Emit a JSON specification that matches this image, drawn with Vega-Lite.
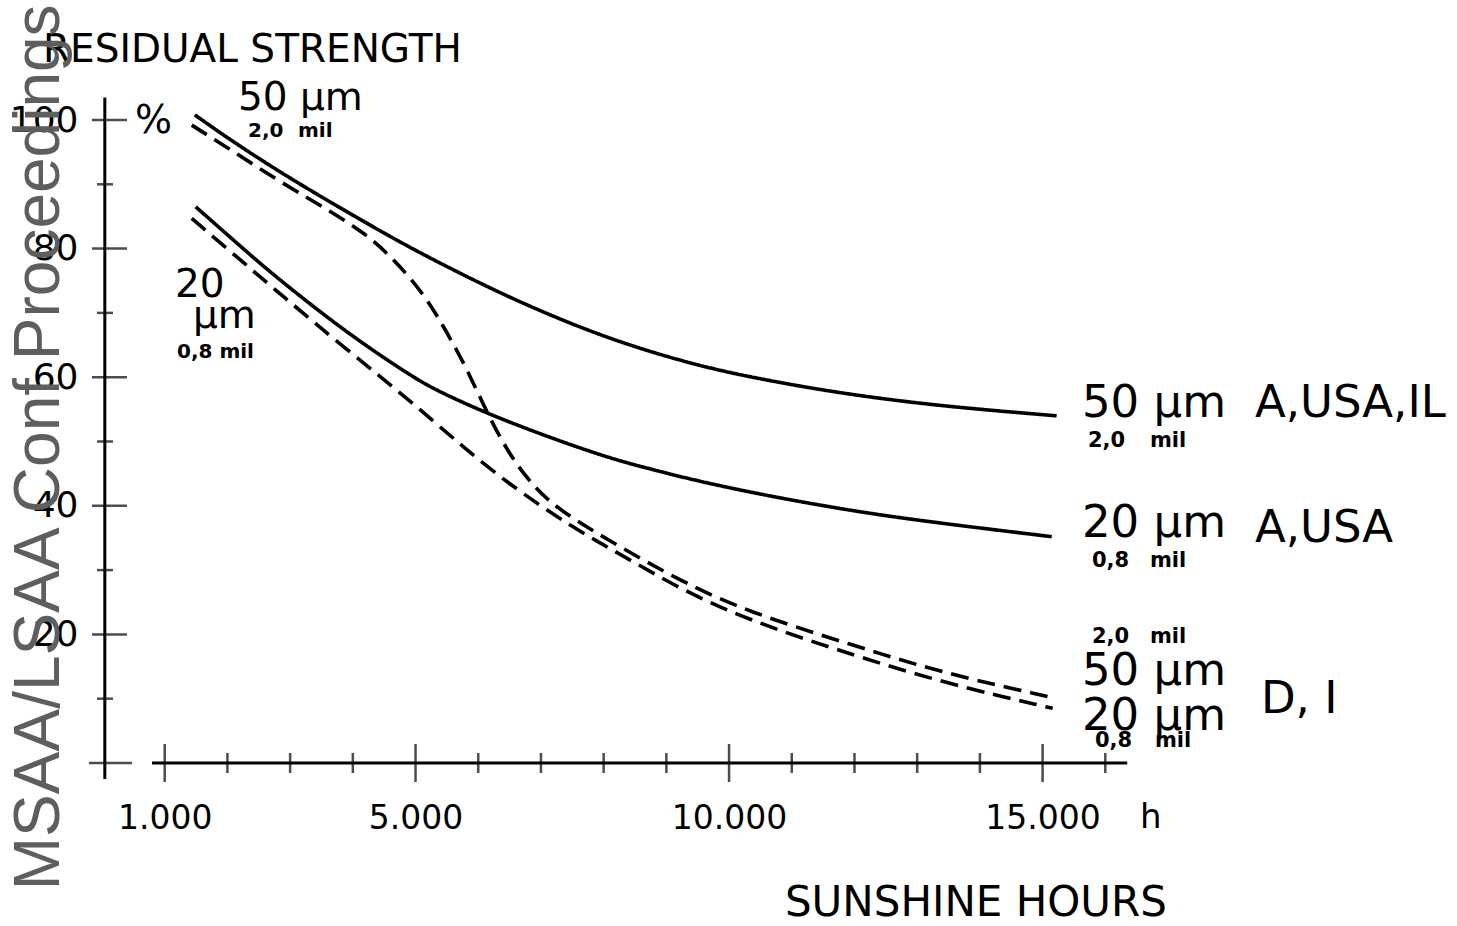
{
  "$schema": "https://vega.github.io/schema/vega-lite/v6.json",
  "autosize": {"type": "none"},
  "width": 1066,
  "height": 643,
  "padding": {"left": 102, "top": 120, "right": 289, "bottom": 163},
  "background": "white",
  "config": {"view": {"stroke": null}, "text": {"font": "DejaVu Sans", "color": "black"}},
  "encoding": {
    "x": {"field": "h", "type": "quantitative", "scale": {"domain": [0, 17000], "nice": false, "zero": false},
      "axis": {"values": [1000, 5000, 10000, 15000], "labelExpr": "replace(format(datum.value, ','), ',', '.')",
        "domain": false, "ticks": false, "tickSize": 0, "grid": false, "labelPadding": 65, "labelBaseline": "alphabetic",
        "labelFontSize": 33, "labelFont": "DejaVu Sans", "labelColor": "black", "labelFlush": false, "labelOverlap": false, "title": null}},
    "y": {"field": "v", "type": "quantitative", "scale": {"domain": [0, 100], "nice": false, "zero": false},
      "axis": {"values": [20, 40, 60, 80, 100], "domain": false, "ticks": false, "tickSize": 0, "grid": false,
        "labelPadding": 24, "labelBaseline": "middle", "labelFontSize": 36, "labelFont": "DejaVu Sans", "labelColor": "black", "labelFlush": false, "title": null}}
  },
  "layer": [
    {
      "data": {"values": [
        {"s": "50 A,USA,IL", "st": "solid", "h": 1480, "v": 100.8},
        {"s": "50 A,USA,IL", "st": "solid", "h": 2000, "v": 97.2},
        {"s": "50 A,USA,IL", "st": "solid", "h": 2834, "v": 91.9},
        {"s": "50 A,USA,IL", "st": "solid", "h": 3679, "v": 87.0},
        {"s": "50 A,USA,IL", "st": "solid", "h": 4426, "v": 82.8},
        {"s": "50 A,USA,IL", "st": "solid", "h": 5017, "v": 79.6},
        {"s": "50 A,USA,IL", "st": "solid", "h": 6022, "v": 74.6},
        {"s": "50 A,USA,IL", "st": "solid", "h": 7000, "v": 70.2},
        {"s": "50 A,USA,IL", "st": "solid", "h": 8208, "v": 65.5},
        {"s": "50 A,USA,IL", "st": "solid", "h": 9531, "v": 61.7},
        {"s": "50 A,USA,IL", "st": "solid", "h": 10500, "v": 59.7},
        {"s": "50 A,USA,IL", "st": "solid", "h": 11763, "v": 57.5},
        {"s": "50 A,USA,IL", "st": "solid", "h": 13358, "v": 55.5},
        {"s": "50 A,USA,IL", "st": "solid", "h": 15224, "v": 54.0},
        {"s": "20 A,USA", "st": "solid", "h": 1494, "v": 86.5},
        {"s": "20 A,USA", "st": "solid", "h": 2307, "v": 79.5},
        {"s": "20 A,USA", "st": "solid", "h": 2834, "v": 75.1},
        {"s": "20 A,USA", "st": "solid", "h": 3902, "v": 66.9},
        {"s": "20 A,USA", "st": "solid", "h": 4955, "v": 60.0},
        {"s": "20 A,USA", "st": "solid", "h": 5385, "v": 57.7},
        {"s": "20 A,USA", "st": "solid", "h": 6134, "v": 54.4},
        {"s": "20 A,USA", "st": "solid", "h": 6979, "v": 51.2},
        {"s": "20 A,USA", "st": "solid", "h": 7938, "v": 47.9},
        {"s": "20 A,USA", "st": "solid", "h": 8575, "v": 46.1},
        {"s": "20 A,USA", "st": "solid", "h": 9930, "v": 42.8},
        {"s": "20 A,USA", "st": "solid", "h": 11924, "v": 39.2},
        {"s": "20 A,USA", "st": "solid", "h": 13358, "v": 37.3},
        {"s": "20 A,USA", "st": "solid", "h": 15145, "v": 35.2},
        {"s": "50 D,I", "st": "dashed", "h": 1431, "v": 99.2},
        {"s": "50 D,I", "st": "dashed", "h": 2000, "v": 95.7},
        {"s": "50 D,I", "st": "dashed", "h": 2834, "v": 90.4},
        {"s": "50 D,I", "st": "dashed", "h": 3679, "v": 85.6},
        {"s": "50 D,I", "st": "dashed", "h": 4200, "v": 82.3},
        {"s": "50 D,I", "st": "dashed", "h": 4587, "v": 79.0},
        {"s": "50 D,I", "st": "dashed", "h": 5113, "v": 73.3},
        {"s": "50 D,I", "st": "dashed", "h": 5495, "v": 67.1},
        {"s": "50 D,I", "st": "dashed", "h": 5814, "v": 61.4},
        {"s": "50 D,I", "st": "dashed", "h": 6134, "v": 54.6},
        {"s": "50 D,I", "st": "dashed", "h": 6453, "v": 48.7},
        {"s": "50 D,I", "st": "dashed", "h": 6772, "v": 44.3},
        {"s": "50 D,I", "st": "dashed", "h": 7091, "v": 41.0},
        {"s": "50 D,I", "st": "dashed", "h": 7506, "v": 38.0},
        {"s": "50 D,I", "st": "dashed", "h": 8208, "v": 33.9},
        {"s": "50 D,I", "st": "dashed", "h": 9261, "v": 28.1},
        {"s": "50 D,I", "st": "dashed", "h": 10329, "v": 23.4},
        {"s": "50 D,I", "st": "dashed", "h": 11924, "v": 18.5},
        {"s": "50 D,I", "st": "dashed", "h": 13358, "v": 14.1},
        {"s": "50 D,I", "st": "dashed", "h": 15145, "v": 10.2},
        {"s": "20 D,I", "st": "dashed", "h": 1431, "v": 84.7},
        {"s": "20 D,I", "st": "dashed", "h": 2307, "v": 77.4},
        {"s": "20 D,I", "st": "dashed", "h": 2834, "v": 73.0},
        {"s": "20 D,I", "st": "dashed", "h": 3902, "v": 64.3},
        {"s": "20 D,I", "st": "dashed", "h": 4955, "v": 56.0},
        {"s": "20 D,I", "st": "dashed", "h": 5704, "v": 49.6},
        {"s": "20 D,I", "st": "dashed", "h": 6453, "v": 43.6},
        {"s": "20 D,I", "st": "dashed", "h": 7506, "v": 36.6},
        {"s": "20 D,I", "st": "dashed", "h": 8208, "v": 32.8},
        {"s": "20 D,I", "st": "dashed", "h": 9261, "v": 26.8},
        {"s": "20 D,I", "st": "dashed", "h": 10329, "v": 22.2},
        {"s": "20 D,I", "st": "dashed", "h": 11653, "v": 17.8},
        {"s": "20 D,I", "st": "dashed", "h": 13358, "v": 12.6},
        {"s": "20 D,I", "st": "dashed", "h": 15161, "v": 8.5}
      ]},
      "mark": {"type": "line", "interpolate": "basis", "color": "black", "strokeWidth": 3.6, "strokeCap": "butt"},
      "encoding": {
        "detail": {"field": "s", "type": "nominal"},
        "strokeDash": {"field": "st", "type": "nominal", "scale": {"domain": ["solid", "dashed"], "range": [[1, 0], [18, 9]]}, "legend": null}
      }
    },
    {
      "data": {"values": [{"h": 45, "v": -2.5, "v2": 103.5}]},
      "mark": {"type": "rule", "color": "black", "strokeWidth": 3},
      "encoding": {"y2": {"field": "v2"}}
    },
    {
      "data": {"values": [{"h": 797, "h2": 16350, "v": 0}]},
      "mark": {"type": "rule", "color": "black", "strokeWidth": 3},
      "encoding": {"x2": {"field": "h2"}}
    },
    {
      "data": {"values": [{"h": 1000, "v": 0}, {"h": 5000, "v": 0}, {"h": 10000, "v": 0}, {"h": 15000, "v": 0}]},
      "mark": {"type": "tick", "orient": "vertical", "color": "black", "thickness": 2.5, "size": 38}
    },
    {
      "data": {"values": [{"h": 2000, "v": 0}, {"h": 3000, "v": 0}, {"h": 4000, "v": 0}, {"h": 6000, "v": 0}, {"h": 7000, "v": 0}, {"h": 8000, "v": 0}, {"h": 9000, "v": 0}, {"h": 11000, "v": 0}, {"h": 12000, "v": 0}, {"h": 13000, "v": 0}, {"h": 14000, "v": 0}, {"h": 16000, "v": 0}]},
      "mark": {"type": "tick", "orient": "vertical", "color": "black", "thickness": 2.5, "size": 20}
    },
    {
      "data": {"values": [{"h": 120, "v": 20}, {"h": 120, "v": 40}, {"h": 120, "v": 60}, {"h": 120, "v": 80}, {"h": 120, "v": 100}]},
      "mark": {"type": "tick", "orient": "horizontal", "color": "black", "thickness": 2.5, "size": 35}
    },
    {
      "data": {"values": [{"h": 135, "v": 0}]},
      "mark": {"type": "tick", "orient": "horizontal", "color": "black", "thickness": 2.5, "size": 43}
    },
    {
      "data": {"values": [{"h": 48, "v": 10}, {"h": 48, "v": 30}, {"h": 48, "v": 50}, {"h": 48, "v": 70}, {"h": 48, "v": 90}]},
      "mark": {"type": "tick", "orient": "horizontal", "color": "black", "thickness": 2.5, "size": 16}
    },
    {
      "data": {"values": [
        {"t": "50 µm", "h": 15628, "v": 53.8},
        {"t": "A,USA,IL", "h": 18386, "v": 53.8},
        {"t": "20 µm", "h": 15628, "v": 35.1},
        {"t": "A,USA", "h": 18386, "v": 34.4},
        {"t": "50 µm", "h": 15628, "v": 12.1},
        {"t": "20 µm", "h": 15628, "v": 5.1},
        {"t": "D, I", "h": 18482, "v": 7.8}
      ]},
      "mark": {"type": "text", "align": "left", "baseline": "alphabetic", "fontSize": 45},
      "encoding": {"text": {"field": "t"}}
    },
    {
      "data": {"values": [
        {"t": "2,0", "h": 15723, "v": 49.1},
        {"t": "mil", "h": 16712, "v": 49.1},
        {"t": "0,8", "h": 15787, "v": 30.5},
        {"t": "mil", "h": 16712, "v": 30.5},
        {"t": "2,0", "h": 15787, "v": 18.7},
        {"t": "mil", "h": 16712, "v": 18.7},
        {"t": "0,8", "h": 15835, "v": 2.5},
        {"t": "mil", "h": 16791, "v": 2.5}
      ]},
      "mark": {"type": "text", "align": "left", "baseline": "alphabetic", "fontSize": 21, "fontWeight": "bold"},
      "encoding": {"text": {"field": "t"}}
    },
    {
      "data": {"values": [
        {"t": "50 µm", "h": 2169, "v": 101.6},
        {"t": "20", "h": 1164, "v": 72.5},
        {"t": "µm", "h": 1451, "v": 67.7},
        {"t": "%", "h": 526, "v": 98.0}
      ]},
      "mark": {"type": "text", "align": "left", "baseline": "alphabetic", "fontSize": 39},
      "encoding": {"text": {"field": "t"}}
    },
    {
      "data": {"values": [
        {"t": "2,0", "h": 2328, "v": 97.4},
        {"t": "mil", "h": 3126, "v": 97.4},
        {"t": "0,8 mil", "h": 1196, "v": 63.0}
      ]},
      "mark": {"type": "text", "align": "left", "baseline": "alphabetic", "fontSize": 20, "fontWeight": "bold"},
      "encoding": {"text": {"field": "t"}}
    },
    {
      "data": {"values": [{"t": "RESIDUAL STRENGTH", "h": -941, "v": 109.0}]},
      "mark": {"type": "text", "align": "left", "baseline": "alphabetic", "fontSize": 39},
      "encoding": {"text": {"field": "t"}}
    },
    {
      "data": {"values": [{"t": "SUNSHINE HOURS", "h": 10891, "v": -23.8}]},
      "mark": {"type": "text", "align": "left", "baseline": "alphabetic", "fontSize": 42},
      "encoding": {"text": {"field": "t"}}
    },
    {
      "data": {"values": [{"t": "h", "h": 16552, "v": -10.1}]},
      "mark": {"type": "text", "align": "left", "baseline": "alphabetic", "fontSize": 34},
      "encoding": {"text": {"field": "t"}}
    },
    {
      "data": {"values": [{"t": "MSAA/LSAA Conf Proceedings", "h": -989, "v": 49.1}]},
      "mark": {"type": "text", "align": "center", "baseline": "middle", "angle": 270, "fontSize": 64, "font": "Liberation Sans", "color": "#5e5e5e"},
      "encoding": {"text": {"field": "t"}}
    }
  ]
}
